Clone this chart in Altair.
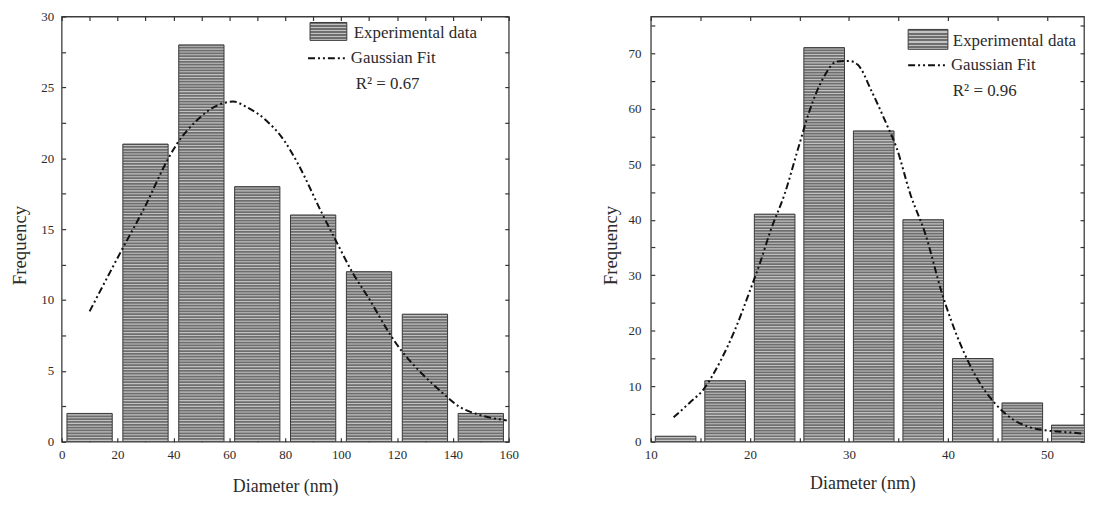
import altair as alt
import pandas as pd

# ---------------- data: left panel ----------------
left_centers = [10, 30, 50, 70, 90, 110, 130, 150]
left_freq = [2, 21, 28, 18, 16, 12, 9, 2]
left_fit_x = [10, 21.7, 29.6, 38.2, 41.2, 48, 56.5, 61.4, 66.3, 73.6, 79.8, 84.6,
              93.2, 98.1, 104.2, 110.3, 116.5, 121.3, 127.5, 136, 142.1, 149.5, 159.3]
left_fit_y = [9.2, 13.6, 16.5, 20.0, 21.0, 22.6, 23.8, 24.0, 23.6, 22.6, 21.2, 19.6,
              16.1, 14.2, 11.9, 10.0, 7.9, 6.5, 5.1, 3.5, 2.5, 1.9, 1.5]
left_r2 = "R² = 0.67"
left_x_ticks = [0, 10, 20, 30, 40, 50, 60, 70, 80, 90, 100, 110, 120, 130, 140, 150, 160]
left_y_ticks = [0, 2.5, 5, 7.5, 10, 12.5, 15, 17.5, 20, 22.5, 25, 27.5, 30]

# ---------------- data: right panel ----------------
right_centers = [12.5, 17.5, 22.5, 27.5, 32.5, 37.5, 42.5, 47.5, 52.5]
right_freq = [1, 11, 41, 71, 56, 40, 15, 7, 3]
right_fit_x = [12.3, 13.9, 15.3, 17.1, 18.5, 19.9, 21.0, 22.1, 23.5, 24.9, 26.0, 27.4,
               28.8, 30.0, 30.9, 32.3, 33.8, 34.8, 36.2, 37.7, 39.4, 41.2, 43.0, 44.7,
               46.5, 48.3, 50.1, 52.2, 54.0, 56.0]
right_fit_y = [4.4, 7.0, 9.4, 14.8, 20.2, 26.7, 32.1, 38.1, 44.6, 53.0, 59.5, 65.5,
               68.5, 68.6, 67.9, 63.1, 57.2, 53.0, 44.6, 37.5, 26.7, 17.8, 11.2, 7.0,
               4.1, 2.6, 2.0, 1.7, 1.4, 1.2]
right_r2 = "R² = 0.96"
right_x_ticks = [10, 15, 20, 25, 30, 35, 40, 45, 50]
right_y_ticks = [0, 5, 10, 15, 20, 25, 30, 35, 40, 45, 50, 55, 60, 65, 70, 75]

x_title = "Diameter (nm)"
y_title = "Frequency"
legend_bar = "Experimental data"
legend_fit = "Gaussian Fit"

FONT = "Liberation Serif"
TXT = "#2b2b2b"
BAR_FILL = "#6e6e6e"
STRIPE = "#c2c2c2"
EDGE = "#3a3a3a"
DASH = [7, 3, 2, 3, 2, 3]

# striped swatch for the legend patch
_stops = []
for k in range(6):
    _stops += [alt.GradientStop(offset=k / 6, color=BAR_FILL),
               alt.GradientStop(offset=(k + 0.6) / 6, color=BAR_FILL),
               alt.GradientStop(offset=(k + 0.6) / 6, color=STRIPE),
               alt.GradientStop(offset=(k + 1) / 6, color=STRIPE)]
SWATCH = alt.LinearGradient(gradient="linear", stops=_stops, x1=0, x2=0, y1=0, y2=1)


def make_panel(centers, freq, half, fit_x, fit_y, xdom, ydom, xticks, xstep,
               yticks, ystep, stripe_step, r2, leg, w, h, ylab_pad, ytitle_pad,
               xtitle_pad, xtitle_x=None):
    bars_df = pd.DataFrame({"center": centers, "freq": freq})
    fit_df = pd.DataFrame({"x": fit_x, "y": fit_y})
    one = pd.DataFrame({"k": [0]})

    xs = alt.Scale(domain=xdom, nice=False, zero=False)
    ys = alt.Scale(domain=ydom, nice=False)

    xaxis_kw = dict(orient="bottom", offset=-4, tickSize=4, domain=False, grid=False,
                    values=xticks, labelPadding=7, titlePadding=xtitle_pad,
                    labelFlush=False, titleFontSize=18,
                    labelExpr=f"datum.value % {xstep} === 0 ? datum.label : ''",
                    title=x_title)
    if xtitle_x is not None:
        xaxis_kw["titleX"] = xtitle_x
    yaxis_kw = dict(orient="left", offset=-4, tickSize=4, domain=False, grid=False,
                    values=yticks, labelPadding=ylab_pad, titlePadding=ytitle_pad,
                    labelFlush=False, titleFontSize=19, titleY=230,
                    labelExpr=f"datum.value % {ystep} === 0 ? datum.label : ''",
                    title=y_title)

    base = alt.Chart(bars_df).transform_calculate(
        x0=f"datum.center - {half}", x1=f"datum.center + {half}")

    bars = base.mark_rect(fill=BAR_FILL, strokeWidth=0, clip=True).encode(
        x=alt.X("x0:Q", scale=xs, axis=alt.Axis(**xaxis_kw)),
        x2="x1:Q",
        y=alt.Y("freq:Q", scale=ys, axis=alt.Axis(**yaxis_kw)),
        y2=alt.datum(0),
    )

    stripes = base.transform_calculate(
        s=f"sequence({stripe_step / 2}, datum.freq, {stripe_step})"
    ).transform_flatten(["s"]).mark_rule(color=STRIPE, strokeWidth=1.1, clip=True).encode(
        x=alt.X("x0:Q", scale=xs, axis=None),
        x2="x1:Q",
        y=alt.Y("s:Q", scale=ys, axis=None),
    )

    outline = base.mark_rect(fillOpacity=0, stroke=EDGE, strokeWidth=1, clip=True).encode(
        x=alt.X("x0:Q", scale=xs, axis=None),
        x2="x1:Q",
        y=alt.Y("freq:Q", scale=ys, axis=None),
        y2=alt.datum(0),
    )

    line = alt.Chart(fit_df).mark_line(
        color="#111111", strokeWidth=2, strokeDash=DASH,
        interpolate="monotone", clip=True
    ).encode(
        x=alt.X("x:Q", scale=xs,
                axis=alt.Axis(orient="top", offset=-4, tickSize=4, labels=False,
                              domain=False, grid=False, values=xticks, title=None)),
        y=alt.Y("y:Q", scale=ys,
                axis=alt.Axis(orient="right", offset=-4, tickSize=4, labels=False,
                              domain=False, grid=False, values=yticks, title=None)),
    )

    patch = alt.Chart(one).mark_rect(fill=SWATCH, stroke=EDGE, strokeWidth=1).encode(
        x=alt.value(leg["px0"]), x2=alt.value(leg["px1"]),
        y=alt.value(leg["py0"]), y2=alt.value(leg["py1"]),
    )
    sample = alt.Chart(one).mark_rule(
        color="#111111", strokeWidth=2, strokeDash=DASH
    ).encode(x=alt.value(leg["lx0"]), x2=alt.value(leg["lx1"]), y=alt.value(leg["ty2"]))

    def txt(s, x, y):
        return alt.Chart(one).mark_text(
            align="left", baseline="middle", font=FONT, fontSize=17, color=TXT
        ).encode(x=alt.value(x), y=alt.value(y), text=alt.value(s))

    t1 = txt(legend_bar, leg["tx1"], leg["ty1"])
    t2 = txt(legend_fit, leg["tx2"], leg["ty2"])
    t3 = txt(r2, leg["tx3"], leg["ty3"])

    return alt.layer(bars, stripes, outline, line, patch, sample, t1, t2, t3).resolve_axis(
        x="independent", y="independent").properties(width=w, height=h)


left = make_panel(
    left_centers, left_freq, 8.1, left_fit_x, left_fit_y, [0, 160], [0, 30],
    left_x_ticks, 20, left_y_ticks, 5, 0.2, left_r2,
    dict(px0=250, px1=287, py0=6, py1=24, lx0=248, lx1=287,
         tx1=294, ty1=17, tx2=291, ty2=42, tx3=296, ty3=68),
    450, 428, 8, 11, 16,
)

right = make_panel(
    right_centers, right_freq, 2.05, right_fit_x, right_fit_y, [10, 53.73], [0, 76.6],
    right_x_ticks, 10, right_y_ticks, 10, 0.5, right_r2,
    dict(px0=259, px1=299, py0=13, py1=33, lx0=259, lx1=299,
         tx1=304, ty1=25, tx2=302, ty2=49, tx3=304, ty3=75),
    436, 428, 10, 8, 13, xtitle_x=213,
)

chart = alt.hconcat(left, right, spacing=81).properties(
    padding={"left": 2, "top": 0, "right": 0, "bottom": 0}
).configure_view(stroke="#3c3c3c", strokeWidth=1.3).configure_axis(
    labelFont=FONT, titleFont=FONT, labelFontSize=13,
    titleFontWeight="normal", labelColor=TXT, titleColor=TXT,
    tickColor="#333333", tickWidth=1.2,
)

chart.save("out.html", embed_options={"renderer": "svg", "actions": False})
